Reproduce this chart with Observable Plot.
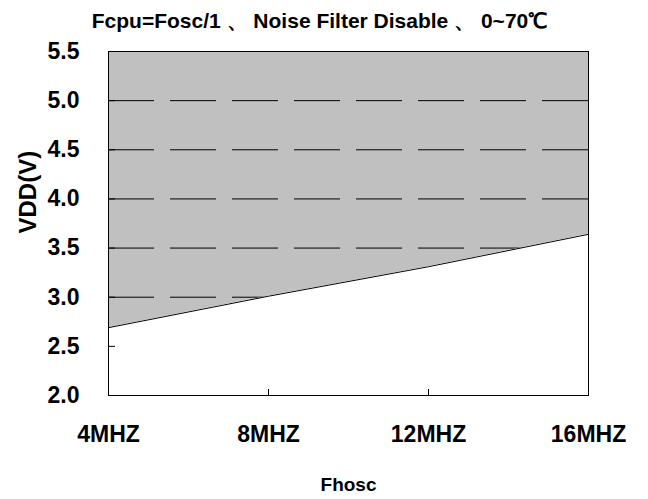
<!DOCTYPE html>
<html>
<head>
<meta charset="utf-8">
<script src="https://cdn.jsdelivr.net/npm/d3@7"></script>
<script src="https://cdn.jsdelivr.net/npm/@observablehq/plot@0.6"></script>
<style>
  html, body { margin: 0; padding: 0; background: #fff; }
  #chart svg { display: block; }
</style>
</head>
<body>
<div id="chart"></div>
<script>
const titleText = "Fcpu=Fosc/1 、 Noise Filter Disable 、 0~70℃";
const xLabel = "Fhosc";
const yLabel = "VDD(V)";
const freqs = [4, 8, 12, 16];
const freqTickLabels = ["4MHZ", "8MHZ", "12MHZ", "16MHZ"];
const vddMin = [2.69, 3.01, 3.31, 3.64];
const yTicks = [2.0, 2.5, 3.0, 3.5, 4.0, 4.5, 5.0, 5.5];
const gridLevels = [2.5, 3.0, 3.5, 4.0, 4.5, 5.0];
const yMin = 2.0, yMax = 5.5;

const data = freqs.map((f, i) => ({f, v: vddMin[i]}));
const font = "Liberation Sans, Arial, sans-serif";

const chart = Plot.plot({
  width: 648,
  height: 499,
  marginLeft: 108,
  marginRight: 60,
  marginTop: 51,
  marginBottom: 104,
  style: {fontFamily: font, fontWeight: "bold", background: "white", color: "black"},
  x: {domain: [freqs[0], freqs[freqs.length - 1]], label: null},
  y: {domain: [yMin, yMax], label: null},
  marks: [
    Plot.areaY(data, {x: "f", y1: "v", y2: yMax, fill: "#c0c0c0"}),
    Plot.ruleY(gridLevels, {stroke: "black", strokeWidth: 1, strokeDasharray: "46,16"}),
    Plot.areaY(data, {x: "f", y1: yMin, y2: "v", fill: "white"}),
    Plot.line(data, {x: "f", y: "v", stroke: "black", strokeWidth: 1}),
    Plot.frame({stroke: "black", strokeWidth: 1}),
    Plot.axisY({ticks: yTicks, tickSize: -7, tickFormat: () => "", stroke: "black"}),
    Plot.axisY({ticks: yTicks, tickSize: 0, tickPadding: 29, tickFormat: d => d.toFixed(1), fontSize: 23, fontWeight: "bold"}),
    Plot.axisX({ticks: freqs, tickSize: -6, tickFormat: () => "", stroke: "black"}),
    Plot.axisX({ticks: freqs, tickSize: 0, tickPadding: 30, tickFormat: d => freqTickLabels[freqs.indexOf(d)], fontSize: 23, fontWeight: "bold"}),
    Plot.text([titleText], {frameAnchor: "top", dx: -29, dy: -24, lineAnchor: "bottom", fontSize: 21, fontWeight: "bold", fill: "black"}),
    Plot.text([xLabel], {frameAnchor: "bottom", dy: 89, lineAnchor: "middle", fontSize: 19, fontWeight: "bold", fill: "black"}),
    Plot.text([yLabel], {frameAnchor: "left", dx: -80, dy: 10, rotate: -90, lineAnchor: "middle", fontSize: 24, fontWeight: "bold", fill: "black"})
  ]
});
document.getElementById("chart").appendChild(chart);
</script>
</body>
</html>
